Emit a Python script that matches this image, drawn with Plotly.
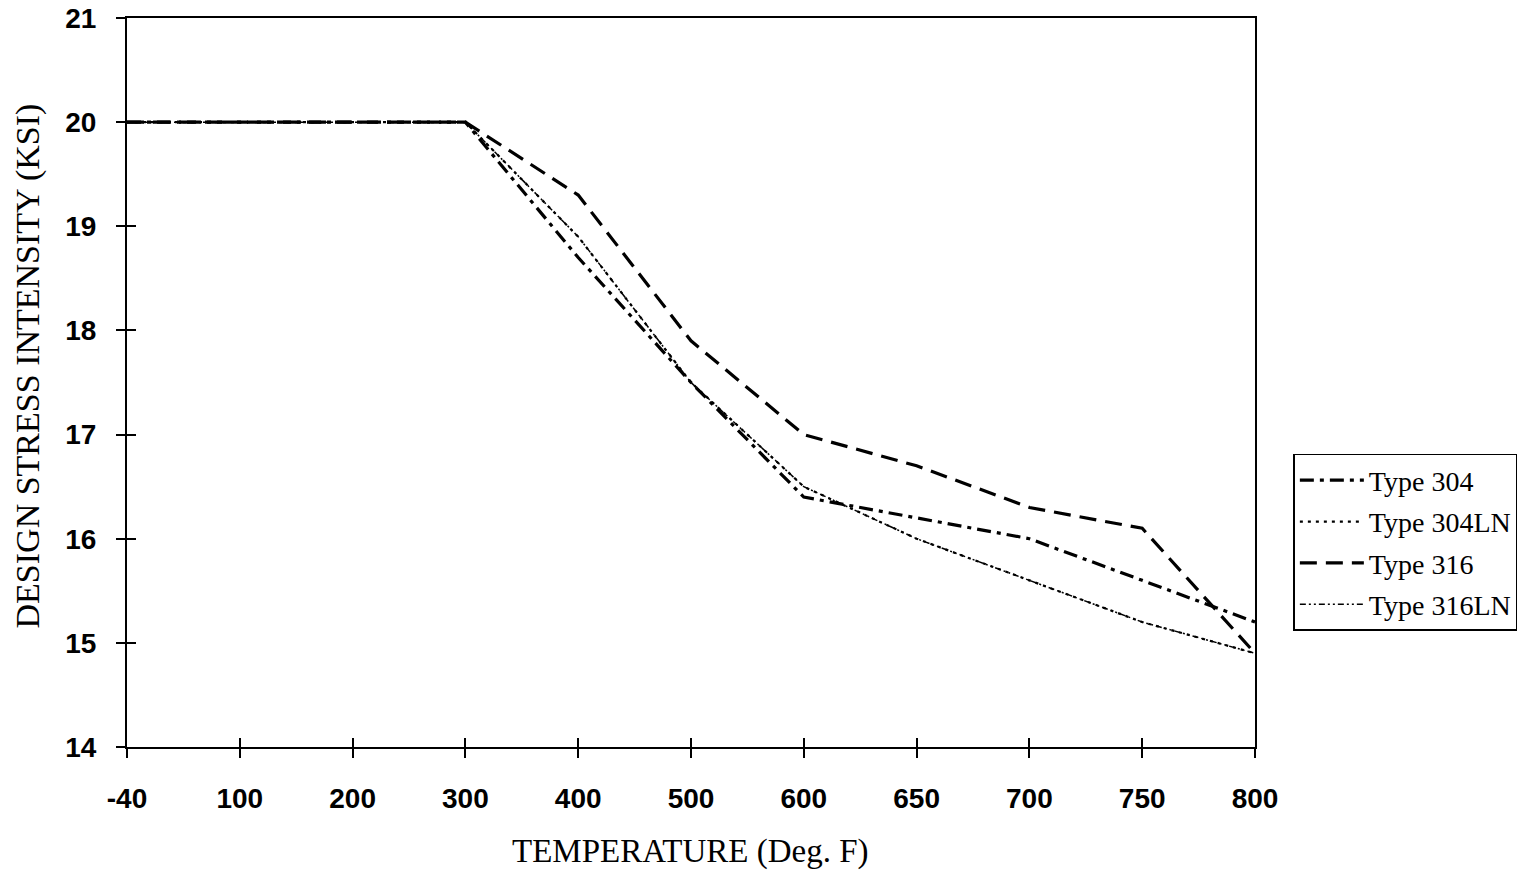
import plotly.graph_objects as go

temps = ["-40", "100", "200", "300", "400", "500", "600", "650", "700", "750", "800"]
type_304 = [20.0, 20.0, 20.0, 20.0, 18.7, 17.5, 16.4, 16.2, 16.0, 15.6, 15.2]
type_304ln = [20.0, 20.0, 20.0, 20.0, 18.9, 17.5, 16.5, 16.0, 15.6, 15.2, 14.9]
type_316 = [20.0, 20.0, 20.0, 20.0, 19.3, 17.9, 17.0, 16.7, 16.3, 16.1, 14.9]
type_316ln = [20.0, 20.0, 20.0, 20.0, 18.9, 17.5, 16.5, 16.0, 15.6, 15.2, 14.9]
y_ticks = [14, 15, 16, 17, 18, 19, 20, 21]

series = [
    ("Type 304", type_304, dict(color="black", width=3.2, dash="14px,6px,4px,6px")),
    ("Type 304LN", type_304ln, dict(color="black", width=2.2, dash="3px,5px")),
    ("Type 316", type_316, dict(color="black", width=3.2, dash="17px,9px")),
    ("Type 316LN", type_316ln, dict(color="black", width=1.5, dash="6px,3px,2px,3px,2px,3px")),
]

fig = go.Figure()
for i, (name, vals, line) in enumerate(series):
    fig.add_trace(go.Scatter(x=temps, y=vals, mode="lines", name=name, line=line,
                             legendgroup=f"g{i}"))

tickfont = dict(family="Liberation Sans, Arial", size=28, color="black", weight="bold")
titlefont = dict(family="Liberation Serif, Times New Roman", size=33, color="black")

fig.update_layout(
    width=1539, height=870,
    margin=dict(l=127, r=284, t=18, b=123),
    paper_bgcolor="white", plot_bgcolor="white",
    showlegend=True,
    legend=dict(
        x=1.034, y=0.402, xanchor="left", yanchor="top",
        bordercolor="black", borderwidth=1.5, bgcolor="white",
        font=dict(family="Liberation Serif, Times New Roman", size=28, color="black"),
        traceorder="grouped", tracegroupgap=2, itemwidth=64,
    ),
    xaxis=dict(
        type="category", categoryorder="array", categoryarray=temps,
        range=[0, len(temps) - 1], automargin=False,
        showgrid=False, zeroline=False,
        showline=True, linecolor="black", linewidth=2, mirror=True,
        ticks="outside", ticklen=9, tickwidth=1.5, tickcolor="black",
        tickfont=tickfont, ticklabelstandoff=16,
    ),
    yaxis=dict(
        range=[14, 21], tickvals=y_ticks, automargin=False,
        showgrid=False, zeroline=False,
        showline=True, linecolor="black", linewidth=2, mirror=True,
        ticks="outside", ticklen=9, tickwidth=1.5, tickcolor="black",
        tickfont=tickfont, ticklabelstandoff=14,
    ),
    xaxis2=dict(
        type="category", categoryorder="array", categoryarray=temps,
        range=[0, len(temps) - 1], overlaying="x", side="bottom", automargin=False,
        showgrid=False, zeroline=False, showline=False, showticklabels=False,
        ticks="inside", ticklen=9, tickwidth=1.5, tickcolor="black",
    ),
    yaxis2=dict(
        range=[14, 21], tickvals=y_ticks, overlaying="y", side="left", automargin=False,
        showgrid=False, zeroline=False, showline=False, showticklabels=False,
        ticks="inside", ticklen=9, tickwidth=1.5, tickcolor="black",
    ),
    annotations=[
        dict(text="TEMPERATURE (Deg. F)", xref="paper", yref="paper",
             x=0.4995, y=-0.144, xanchor="center", yanchor="middle",
             showarrow=False, font=titlefont),
        dict(text="DESIGN STRESS INTENSITY (KSI)", xref="paper", yref="paper",
             x=-0.088, y=0.523, xanchor="center", yanchor="middle", textangle=-90,
             showarrow=False, font=dict(titlefont, size=34)),
    ],
)

# invisible helper trace to activate the inside-tick overlay axes
fig.add_trace(go.Scatter(x=temps, y=type_304, xaxis="x2", yaxis="y2",
                         mode="lines", line=dict(width=0), showlegend=False,
                         hoverinfo="skip", opacity=0))

fig.write_html("out.html")
